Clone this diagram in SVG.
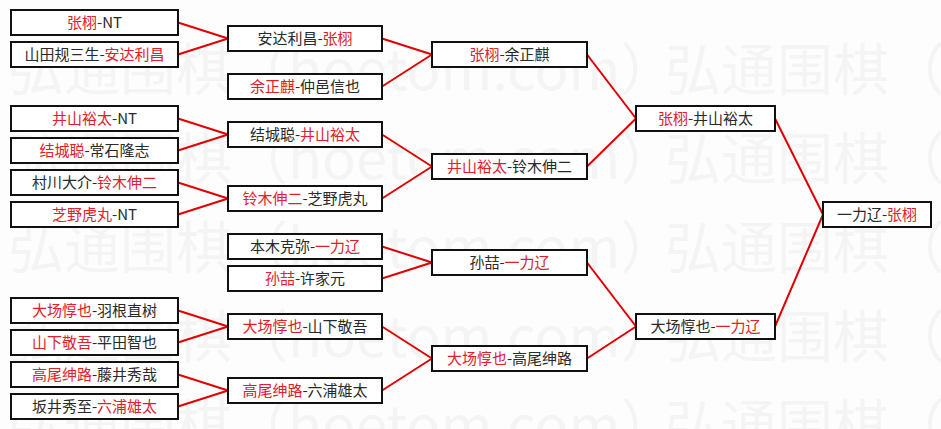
<svg xmlns="http://www.w3.org/2000/svg" width="941" height="429" viewBox="0 0 941 429">
<style>
.wm{font-family:"Noto Sans CJK SC","Noto Sans",sans-serif;font-size:56px;fill:#f4f4f4}
.box{fill:#ffffff;stroke:#111;stroke-width:2}
.t{font-family:"Noto Sans CJK SC","Noto Sans",sans-serif;font-size:15px;fill:#2a2a2a;text-anchor:middle}
.r{fill:#e0202a}
.ln{stroke:#e00000;stroke-width:2;fill:none}
</style>
<rect width="941" height="429" fill="#fdfdfd"/>
<g id="watermark">
<text class="wm" x="8" y="90">弘通围棋（hoetom.com）</text><text class="wm" x="665" y="90">弘通围棋（hoetom.com）</text>
<text class="wm" x="8" y="179">弘通围棋（hoetom.com）</text><text class="wm" x="665" y="179">弘通围棋（hoetom.com）</text>
<text class="wm" x="8" y="268">弘通围棋（hoetom.com）</text><text class="wm" x="665" y="268">弘通围棋（hoetom.com）</text>
<text class="wm" x="8" y="357">弘通围棋（hoetom.com）</text><text class="wm" x="665" y="357">弘通围棋（hoetom.com）</text>
<text class="wm" x="8" y="446">弘通围棋（hoetom.com）</text><text class="wm" x="665" y="446">弘通围棋（hoetom.com）</text>
</g>
<g id="connectors">
<path class="ln" d="M178 22.5L228 38.5M178 54.5L228 38.5"/>
<path class="ln" d="M178 118.5L228 134.5M178 150.5L228 134.5"/>
<path class="ln" d="M178 182.5L228 198.5M178 214.5L228 198.5"/>
<path class="ln" d="M178 310.5L228 326.5M178 342.5L228 326.5"/>
<path class="ln" d="M178 374.5L228 390.5M178 406.5L228 390.5"/>
<path class="ln" d="M382 38.5L432 54.5M382 86.5L432 54.5"/>
<path class="ln" d="M382 134.5L432 166.5M382 198.5L432 166.5"/>
<path class="ln" d="M382 246.5L432 262.5M382 278.5L432 262.5"/>
<path class="ln" d="M382 326.5L432 358.5M382 390.5L432 358.5"/>
<path class="ln" d="M587 54.5L636 118.5M587 166.5L636 118.5"/>
<path class="ln" d="M587 262.5L636 326.5M587 358.5L636 326.5"/>
<path class="ln" d="M775 118.5L823 214.5M775 326.5L823 214.5"/>
</g>
<g id="n1"><rect class="box" x="11" y="10" width="167" height="25"/><text class="t" x="94.5" y="28"><tspan class="r">张栩</tspan>-NT</text></g>
<g id="n2"><rect class="box" x="11" y="42" width="167" height="25"/><text class="t" x="94.5" y="60">山田规三生-<tspan class="r">安达利昌</tspan></text></g>
<g id="n3"><rect class="box" x="11" y="106" width="167" height="25"/><text class="t" x="94.5" y="124"><tspan class="r">井山裕太</tspan>-NT</text></g>
<g id="n4"><rect class="box" x="11" y="138" width="167" height="25"/><text class="t" x="94.5" y="156"><tspan class="r">结城聪</tspan>-常石隆志</text></g>
<g id="n5"><rect class="box" x="11" y="170" width="167" height="25"/><text class="t" x="94.5" y="188">村川大介-<tspan class="r">铃木伸二</tspan></text></g>
<g id="n6"><rect class="box" x="11" y="202" width="167" height="25"/><text class="t" x="94.5" y="220"><tspan class="r">芝野虎丸</tspan>-NT</text></g>
<g id="n7"><rect class="box" x="11" y="298" width="167" height="25"/><text class="t" x="94.5" y="316"><tspan class="r">大场惇也</tspan>-羽根直树</text></g>
<g id="n8"><rect class="box" x="11" y="330" width="167" height="25"/><text class="t" x="94.5" y="348"><tspan class="r">山下敬吾</tspan>-平田智也</text></g>
<g id="n9"><rect class="box" x="11" y="362" width="167" height="25"/><text class="t" x="94.5" y="380"><tspan class="r">高尾绅路</tspan>-藤井秀哉</text></g>
<g id="n10"><rect class="box" x="11" y="394" width="167" height="25"/><text class="t" x="94.5" y="412">坂井秀至-<tspan class="r">六浦雄太</tspan></text></g>
<g id="m1"><rect class="box" x="228" y="26" width="154" height="25"/><text class="t" x="305" y="44">安达利昌-<tspan class="r">张栩</tspan></text></g>
<g id="m2"><rect class="box" x="228" y="74" width="154" height="25"/><text class="t" x="305" y="92"><tspan class="r">余正麒</tspan>-仲邑信也</text></g>
<g id="m3"><rect class="box" x="228" y="122" width="154" height="25"/><text class="t" x="305" y="140">结城聪-<tspan class="r">井山裕太</tspan></text></g>
<g id="m4"><rect class="box" x="228" y="186" width="154" height="25"/><text class="t" x="305" y="204"><tspan class="r">铃木伸二</tspan>-芝野虎丸</text></g>
<g id="m5"><rect class="box" x="228" y="234" width="154" height="25"/><text class="t" x="305" y="252">本木克弥-<tspan class="r">一力辽</tspan></text></g>
<g id="m6"><rect class="box" x="228" y="266" width="154" height="25"/><text class="t" x="305" y="284"><tspan class="r">孙喆</tspan>-许家元</text></g>
<g id="m7"><rect class="box" x="228" y="314" width="154" height="25"/><text class="t" x="305" y="332"><tspan class="r">大场惇也</tspan>-山下敬吾</text></g>
<g id="m8"><rect class="box" x="228" y="378" width="154" height="25"/><text class="t" x="305" y="396"><tspan class="r">高尾绅路</tspan>-六浦雄太</text></g>
<g id="q1"><rect class="box" x="432" y="42" width="155" height="25"/><text class="t" x="509.5" y="60"><tspan class="r">张栩</tspan>-余正麒</text></g>
<g id="q2"><rect class="box" x="432" y="154" width="155" height="25"/><text class="t" x="509.5" y="172"><tspan class="r">井山裕太</tspan>-铃木伸二</text></g>
<g id="q3"><rect class="box" x="432" y="250" width="155" height="25"/><text class="t" x="509.5" y="268">孙喆-<tspan class="r">一力辽</tspan></text></g>
<g id="q4"><rect class="box" x="432" y="346" width="155" height="25"/><text class="t" x="509.5" y="364"><tspan class="r">大场惇也</tspan>-高尾绅路</text></g>
<g id="s1"><rect class="box" x="636" y="106" width="139" height="25"/><text class="t" x="705.5" y="124"><tspan class="r">张栩</tspan>-井山裕太</text></g>
<g id="s2"><rect class="box" x="636" y="314" width="139" height="25"/><text class="t" x="705.5" y="332">大场惇也-<tspan class="r">一力辽</tspan></text></g>
<g id="f1"><rect class="box" x="823" y="202" width="108" height="25"/><text class="t" x="877" y="220">一力辽-<tspan class="r">张栩</tspan></text></g>
</svg>
